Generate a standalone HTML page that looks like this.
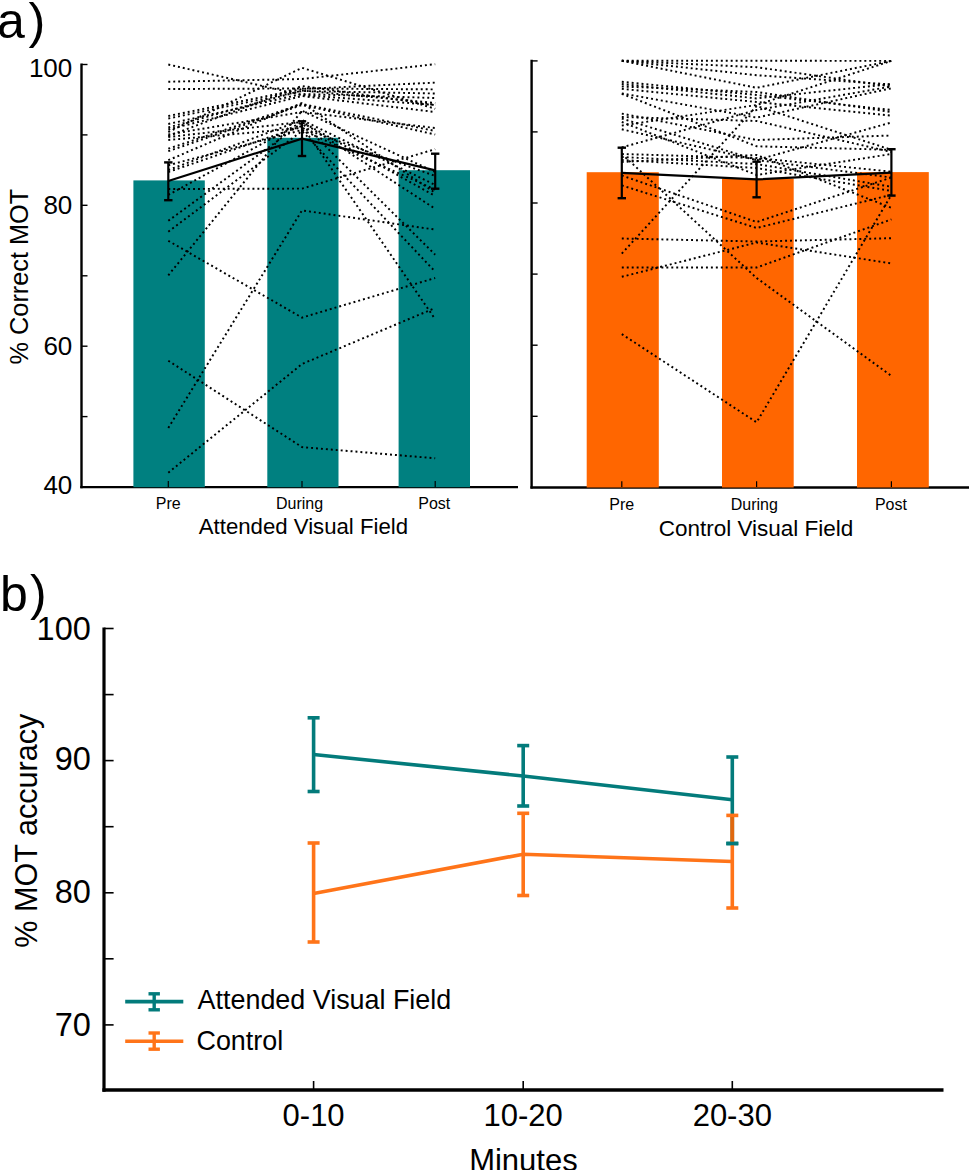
<!DOCTYPE html>
<html><head><meta charset="utf-8"><style>
html,body{margin:0;padding:0;background:#fff;width:969px;height:1170px;overflow:hidden}
svg{display:block}
text{font-family:"Liberation Sans",sans-serif;fill:#000}
</style></head><body>
<svg width="969" height="1170" viewBox="0 0 969 1170">
<rect width="969" height="1170" fill="#fff"/>
<text x="-3" y="38" font-size="50">a</text>
<text x="28.5" y="37.6" font-size="50.5">)</text>
<line x1="81.5" y1="63.5" x2="81.5" y2="488.2" stroke="#000" stroke-width="2.4"/>
<line x1="80.3" y1="487.2" x2="518" y2="487.2" stroke="#000" stroke-width="2.3"/>
<line x1="81.5" y1="64.5" x2="87.5" y2="64.5" stroke="#000" stroke-width="1.4"/>
<line x1="81.5" y1="134.9" x2="87.5" y2="134.9" stroke="#000" stroke-width="1.4"/>
<line x1="81.5" y1="205.3" x2="87.5" y2="205.3" stroke="#000" stroke-width="1.4"/>
<line x1="81.5" y1="275.8" x2="87.5" y2="275.8" stroke="#000" stroke-width="1.4"/>
<line x1="81.5" y1="346.2" x2="87.5" y2="346.2" stroke="#000" stroke-width="1.4"/>
<line x1="81.5" y1="416.6" x2="87.5" y2="416.6" stroke="#000" stroke-width="1.4"/>
<rect x="133.4" y="180.4" width="71.4" height="306.79999999999995" fill="#008080"/>
<rect x="267.3" y="137.8" width="71.19999999999999" height="349.4" fill="#008080"/>
<rect x="398.6" y="170.2" width="71.39999999999998" height="317.0" fill="#008080"/>
<line x1="168.3" y1="481" x2="168.3" y2="487" stroke="#000" stroke-width="1.2"/>
<line x1="302.0" y1="481" x2="302.0" y2="487" stroke="#000" stroke-width="1.2"/>
<line x1="435.2" y1="481" x2="435.2" y2="487" stroke="#000" stroke-width="1.2"/>
<polyline points="168.3,64.5 302.0,95.0 435.2,105.0" stroke="#000" stroke-width="1.95" stroke-dasharray="1.95 3.0" fill="none"/>
<polyline points="168.3,81.7 302.0,79.0 435.2,64.2" stroke="#000" stroke-width="1.95" stroke-dasharray="1.95 3.0" fill="none"/>
<polyline points="168.3,89.0 302.0,88.5 435.2,89.4" stroke="#000" stroke-width="1.95" stroke-dasharray="1.95 3.0" fill="none"/>
<polyline points="168.3,116.0 302.0,89.0 435.2,82.6" stroke="#000" stroke-width="1.95" stroke-dasharray="1.95 3.0" fill="none"/>
<polyline points="168.3,118.5 302.0,91.0 435.2,93.5" stroke="#000" stroke-width="1.95" stroke-dasharray="1.95 3.0" fill="none"/>
<polyline points="168.3,127.5 302.0,90.5 435.2,103.0" stroke="#000" stroke-width="1.95" stroke-dasharray="1.95 3.0" fill="none"/>
<polyline points="168.3,129.5 302.0,96.0 435.2,112.0" stroke="#000" stroke-width="1.95" stroke-dasharray="1.95 3.0" fill="none"/>
<polyline points="168.3,132.0 302.0,67.8 435.2,108.8" stroke="#000" stroke-width="1.95" stroke-dasharray="1.95 3.0" fill="none"/>
<polyline points="168.3,134.5 302.0,112.0 435.2,128.0" stroke="#000" stroke-width="1.95" stroke-dasharray="1.95 3.0" fill="none"/>
<polyline points="168.3,137.0 302.0,122.0 435.2,196.0" stroke="#000" stroke-width="1.95" stroke-dasharray="1.95 3.0" fill="none"/>
<polyline points="168.3,148.7 302.0,104.0 435.2,131.0" stroke="#000" stroke-width="1.95" stroke-dasharray="1.95 3.0" fill="none"/>
<polyline points="168.3,151.2 302.0,105.0 435.2,134.5" stroke="#000" stroke-width="1.95" stroke-dasharray="1.95 3.0" fill="none"/>
<polyline points="168.3,160.2 302.0,103.0 435.2,192.8" stroke="#000" stroke-width="1.95" stroke-dasharray="1.95 3.0" fill="none"/>
<polyline points="168.3,165.2 302.0,130.0 435.2,189.6" stroke="#000" stroke-width="1.95" stroke-dasharray="1.95 3.0" fill="none"/>
<polyline points="168.3,172.0 302.0,126.0 435.2,319.2" stroke="#000" stroke-width="1.95" stroke-dasharray="1.95 3.0" fill="none"/>
<polyline points="168.3,189.0 302.0,188.6 435.2,149.2" stroke="#000" stroke-width="1.95" stroke-dasharray="1.95 3.0" fill="none"/>
<polyline points="168.3,194.9 302.0,122.0 435.2,208.8" stroke="#000" stroke-width="1.95" stroke-dasharray="1.95 3.0" fill="none"/>
<polyline points="168.3,220.8 302.0,123.0 435.2,254.7" stroke="#000" stroke-width="1.95" stroke-dasharray="1.95 3.0" fill="none"/>
<polyline points="168.3,231.7 302.0,131.0 435.2,271.7" stroke="#000" stroke-width="1.95" stroke-dasharray="1.95 3.0" fill="none"/>
<polyline points="168.3,240.8 302.0,317.6 435.2,278.0" stroke="#000" stroke-width="1.95" stroke-dasharray="1.95 3.0" fill="none"/>
<polyline points="168.3,275.3 302.0,110.8 435.2,172.0" stroke="#000" stroke-width="1.95" stroke-dasharray="1.95 3.0" fill="none"/>
<polyline points="168.3,360.7 302.0,447.1 435.2,458.3" stroke="#000" stroke-width="1.95" stroke-dasharray="1.95 3.0" fill="none"/>
<polyline points="168.3,427.9 302.0,210.4 435.2,229.6" stroke="#000" stroke-width="1.95" stroke-dasharray="1.95 3.0" fill="none"/>
<polyline points="168.3,472.7 302.0,364.0 435.2,308.0" stroke="#000" stroke-width="1.95" stroke-dasharray="1.95 3.0" fill="none"/>
<polyline points="168.3,136.0 302.0,86.0 435.2,105.0" stroke="#000" stroke-width="1.95" stroke-dasharray="1.95 3.0" fill="none"/>
<polyline points="168.3,124.0 302.0,94.0 435.2,98.0" stroke="#000" stroke-width="1.95" stroke-dasharray="1.95 3.0" fill="none"/>
<polyline points="168.3,170.0 302.0,120.0 435.2,185.0" stroke="#000" stroke-width="1.95" stroke-dasharray="1.95 3.0" fill="none"/>
<polyline points="168.3,140.0 302.0,128.0 435.2,176.0" stroke="#000" stroke-width="1.95" stroke-dasharray="1.95 3.0" fill="none"/>
<polyline points="168.3,181 302.0,138.6 435.2,170.4" stroke="#000" stroke-width="2.2" fill="none"/>
<line x1="168.3" y1="162.4" x2="168.3" y2="200.2" stroke="#000" stroke-width="2.2"/>
<line x1="164.10000000000002" y1="162.4" x2="172.5" y2="162.4" stroke="#000" stroke-width="2.4"/>
<line x1="164.10000000000002" y1="200.2" x2="172.5" y2="200.2" stroke="#000" stroke-width="2.4"/>
<line x1="302.0" y1="121.3" x2="302.0" y2="156.0" stroke="#000" stroke-width="2.2"/>
<line x1="297.8" y1="121.3" x2="306.2" y2="121.3" stroke="#000" stroke-width="2.4"/>
<line x1="297.8" y1="156.0" x2="306.2" y2="156.0" stroke="#000" stroke-width="2.4"/>
<line x1="435.2" y1="153.7" x2="435.2" y2="188.7" stroke="#000" stroke-width="2.2"/>
<line x1="431.0" y1="153.7" x2="439.4" y2="153.7" stroke="#000" stroke-width="2.4"/>
<line x1="431.0" y1="188.7" x2="439.4" y2="188.7" stroke="#000" stroke-width="2.4"/>
<text x="72.3" y="76.6" font-size="26" text-anchor="end">100</text>
<text x="72.3" y="214.0" font-size="26" text-anchor="end">80</text>
<text x="72.3" y="355.3" font-size="26" text-anchor="end">60</text>
<text x="72.3" y="494.0" font-size="26" text-anchor="end">40</text>
<text transform="translate(27.9,276.6) rotate(-90)" font-size="25.3" text-anchor="middle">% Correct MOT</text>
<text x="168.3" y="508.7" font-size="16" text-anchor="middle">Pre</text>
<text x="299.5" y="508.7" font-size="16" text-anchor="middle">During</text>
<text x="434.3" y="508.7" font-size="16" text-anchor="middle">Post</text>
<text x="303.4" y="533.7" font-size="22.2" text-anchor="middle">Attended Visual Field</text>
<line x1="531.6" y1="59.8" x2="531.6" y2="488.5" stroke="#000" stroke-width="2.4"/>
<line x1="530.4" y1="487.5" x2="969" y2="487.5" stroke="#000" stroke-width="2.3"/>
<line x1="531.6" y1="60.9" x2="537.6" y2="60.9" stroke="#000" stroke-width="1.4"/>
<line x1="531.6" y1="131.9" x2="537.6" y2="131.9" stroke="#000" stroke-width="1.4"/>
<line x1="531.6" y1="203.0" x2="537.6" y2="203.0" stroke="#000" stroke-width="1.4"/>
<line x1="531.6" y1="274.1" x2="537.6" y2="274.1" stroke="#000" stroke-width="1.4"/>
<line x1="531.6" y1="345.2" x2="537.6" y2="345.2" stroke="#000" stroke-width="1.4"/>
<line x1="531.6" y1="416.3" x2="537.6" y2="416.3" stroke="#000" stroke-width="1.4"/>
<rect x="586.7" y="172.2" width="72.09999999999991" height="315.3" fill="#FF6600"/>
<rect x="722.0" y="178.6" width="71.70000000000005" height="308.9" fill="#FF6600"/>
<rect x="857.0" y="172.1" width="71.79999999999995" height="315.4" fill="#FF6600"/>
<line x1="621.8" y1="481.3" x2="621.8" y2="487" stroke="#000" stroke-width="1.2"/>
<line x1="756.6" y1="481.3" x2="756.6" y2="487" stroke="#000" stroke-width="1.2"/>
<line x1="891.4" y1="481.3" x2="891.4" y2="487" stroke="#000" stroke-width="1.2"/>
<polyline points="621.8,60.8 756.6,60.8 891.4,60.9" stroke="#000" stroke-width="1.95" stroke-dasharray="1.95 3.0" fill="none"/>
<polyline points="621.8,60.8 756.6,67.2 891.4,86.5" stroke="#000" stroke-width="1.95" stroke-dasharray="1.95 3.0" fill="none"/>
<polyline points="621.8,60.8 756.6,75.2 891.4,84.5" stroke="#000" stroke-width="1.95" stroke-dasharray="1.95 3.0" fill="none"/>
<polyline points="621.8,60.8 756.6,87.8 891.4,60.9" stroke="#000" stroke-width="1.95" stroke-dasharray="1.95 3.0" fill="none"/>
<polyline points="621.8,81.8 756.6,95.0 891.4,110.0" stroke="#000" stroke-width="1.95" stroke-dasharray="1.95 3.0" fill="none"/>
<polyline points="621.8,84.0 756.6,98.4 891.4,84.0" stroke="#000" stroke-width="1.95" stroke-dasharray="1.95 3.0" fill="none"/>
<polyline points="621.8,86.5 756.6,92.0 891.4,112.0" stroke="#000" stroke-width="1.95" stroke-dasharray="1.95 3.0" fill="none"/>
<polyline points="621.8,88.9 756.6,102.0 891.4,115.6" stroke="#000" stroke-width="1.95" stroke-dasharray="1.95 3.0" fill="none"/>
<polyline points="621.8,93.4 756.6,117.6 891.4,88.3" stroke="#000" stroke-width="1.95" stroke-dasharray="1.95 3.0" fill="none"/>
<polyline points="621.8,93.8 756.6,146.3 891.4,149.8" stroke="#000" stroke-width="1.95" stroke-dasharray="1.95 3.0" fill="none"/>
<polyline points="621.8,113.6 756.6,140.0 891.4,135.5" stroke="#000" stroke-width="1.95" stroke-dasharray="1.95 3.0" fill="none"/>
<polyline points="621.8,117.0 756.6,121.0 891.4,152.0" stroke="#000" stroke-width="1.95" stroke-dasharray="1.95 3.0" fill="none"/>
<polyline points="621.8,118.6 756.6,160.0 891.4,122.5" stroke="#000" stroke-width="1.95" stroke-dasharray="1.95 3.0" fill="none"/>
<polyline points="621.8,122.0 756.6,175.0 891.4,154.0" stroke="#000" stroke-width="1.95" stroke-dasharray="1.95 3.0" fill="none"/>
<polyline points="621.8,125.6 756.6,105.0 891.4,60.9" stroke="#000" stroke-width="1.95" stroke-dasharray="1.95 3.0" fill="none"/>
<polyline points="621.8,129.3 756.6,160.0 891.4,177.5" stroke="#000" stroke-width="1.95" stroke-dasharray="1.95 3.0" fill="none"/>
<polyline points="621.8,147.4 756.6,110.0 891.4,86.5" stroke="#000" stroke-width="1.95" stroke-dasharray="1.95 3.0" fill="none"/>
<polyline points="621.8,154.0 756.6,158.0 891.4,171.7" stroke="#000" stroke-width="1.95" stroke-dasharray="1.95 3.0" fill="none"/>
<polyline points="621.8,157.0 756.6,164.0 891.4,186.8" stroke="#000" stroke-width="1.95" stroke-dasharray="1.95 3.0" fill="none"/>
<polyline points="621.8,160.0 756.6,168.0 891.4,191.0" stroke="#000" stroke-width="1.95" stroke-dasharray="1.95 3.0" fill="none"/>
<polyline points="621.8,162.0 756.6,155.0 891.4,207.8" stroke="#000" stroke-width="1.95" stroke-dasharray="1.95 3.0" fill="none"/>
<polyline points="621.8,175.5 756.6,222.0 891.4,177.5" stroke="#000" stroke-width="1.95" stroke-dasharray="1.95 3.0" fill="none"/>
<polyline points="621.8,185.4 756.6,228.0 891.4,194.8" stroke="#000" stroke-width="1.95" stroke-dasharray="1.95 3.0" fill="none"/>
<polyline points="621.8,238.5 756.6,241.5 891.4,238.2" stroke="#000" stroke-width="1.95" stroke-dasharray="1.95 3.0" fill="none"/>
<polyline points="621.8,253.6 756.6,106.0 891.4,149.8" stroke="#000" stroke-width="1.95" stroke-dasharray="1.95 3.0" fill="none"/>
<polyline points="621.8,267.5 756.6,267.5 891.4,219.4" stroke="#000" stroke-width="1.95" stroke-dasharray="1.95 3.0" fill="none"/>
<polyline points="621.8,276.8 756.6,242.5 891.4,263.4" stroke="#000" stroke-width="1.95" stroke-dasharray="1.95 3.0" fill="none"/>
<polyline points="621.8,334.1 756.6,422.3 891.4,194.8" stroke="#000" stroke-width="1.95" stroke-dasharray="1.95 3.0" fill="none"/>
<polyline points="621.8,154.0 756.6,278.0 891.4,375.9" stroke="#000" stroke-width="1.95" stroke-dasharray="1.95 3.0" fill="none"/>
<polyline points="621.8,172.8 756.6,179.4 891.4,172.7" stroke="#000" stroke-width="2.2" fill="none"/>
<line x1="621.8" y1="147.7" x2="621.8" y2="198.2" stroke="#000" stroke-width="2.2"/>
<line x1="617.5999999999999" y1="147.7" x2="626.0" y2="147.7" stroke="#000" stroke-width="2.4"/>
<line x1="617.5999999999999" y1="198.2" x2="626.0" y2="198.2" stroke="#000" stroke-width="2.4"/>
<line x1="756.6" y1="161.7" x2="756.6" y2="197.3" stroke="#000" stroke-width="2.2"/>
<line x1="752.4" y1="161.7" x2="760.8000000000001" y2="161.7" stroke="#000" stroke-width="2.4"/>
<line x1="752.4" y1="197.3" x2="760.8000000000001" y2="197.3" stroke="#000" stroke-width="2.4"/>
<line x1="891.4" y1="149.2" x2="891.4" y2="195.6" stroke="#000" stroke-width="2.2"/>
<line x1="887.1999999999999" y1="149.2" x2="895.6" y2="149.2" stroke="#000" stroke-width="2.4"/>
<line x1="887.1999999999999" y1="195.6" x2="895.6" y2="195.6" stroke="#000" stroke-width="2.4"/>
<text x="621.8" y="509.8" font-size="16" text-anchor="middle">Pre</text>
<text x="754.3" y="509.8" font-size="16" text-anchor="middle">During</text>
<text x="890.9" y="509.8" font-size="16" text-anchor="middle">Post</text>
<text x="756" y="536" font-size="22.5" text-anchor="middle">Control Visual Field</text>
<text x="0" y="611" font-size="50">b</text>
<text x="29.9" y="610.3" font-size="49.8">)</text>
<line x1="104" y1="627.5" x2="104" y2="1091.8" stroke="#000" stroke-width="3.2"/>
<line x1="102.4" y1="1090" x2="943.5" y2="1090" stroke="#000" stroke-width="3.6"/>
<line x1="104" y1="628.5" x2="113.6" y2="628.5" stroke="#000" stroke-width="1.6"/>
<line x1="104" y1="694.6" x2="113.6" y2="694.6" stroke="#000" stroke-width="1.6"/>
<line x1="104" y1="760.6" x2="113.6" y2="760.6" stroke="#000" stroke-width="1.6"/>
<line x1="104" y1="826.7" x2="113.6" y2="826.7" stroke="#000" stroke-width="1.6"/>
<line x1="104" y1="892.8" x2="113.6" y2="892.8" stroke="#000" stroke-width="1.6"/>
<line x1="104" y1="958.8" x2="113.6" y2="958.8" stroke="#000" stroke-width="1.6"/>
<line x1="104" y1="1024.9" x2="113.6" y2="1024.9" stroke="#000" stroke-width="1.6"/>
<text x="90.8" y="640.1" font-size="32.5" text-anchor="end">100</text>
<text x="90.8" y="770.2" font-size="32.5" text-anchor="end">90</text>
<text x="90.8" y="903.4" font-size="32.5" text-anchor="end">80</text>
<text x="90.8" y="1035.5" font-size="32.5" text-anchor="end">70</text>
<line x1="313.6" y1="1081" x2="313.6" y2="1089" stroke="#000" stroke-width="1.6"/>
<line x1="523.2" y1="1081" x2="523.2" y2="1089" stroke="#000" stroke-width="1.6"/>
<line x1="732.3" y1="1081" x2="732.3" y2="1089" stroke="#000" stroke-width="1.6"/>
<text x="313.6" y="1126" font-size="31" text-anchor="middle">0-10</text>
<text x="523.2" y="1126" font-size="31" text-anchor="middle">10-20</text>
<text x="732.3" y="1126" font-size="31" text-anchor="middle">20-30</text>
<text x="523.4" y="1170.5" font-size="31" text-anchor="middle">Minutes</text>
<text transform="translate(36.5,830.7) rotate(-90)" font-size="30.6" text-anchor="middle">% MOT accuracy</text>
<polyline points="313.6,754.5 523.2,776.0 732.3,799.7" stroke="#037B7B" stroke-width="3.6" fill="none" opacity="1"/>
<line x1="313.6" y1="717.8" x2="313.6" y2="791.5" stroke="#037B7B" stroke-width="3.6" opacity="1"/>
<line x1="307.6" y1="717.8" x2="319.6" y2="717.8" stroke="#037B7B" stroke-width="3.6" opacity="1"/>
<line x1="307.6" y1="791.5" x2="319.6" y2="791.5" stroke="#037B7B" stroke-width="3.6" opacity="1"/>
<line x1="523.2" y1="745.6" x2="523.2" y2="806.0" stroke="#037B7B" stroke-width="3.6" opacity="1"/>
<line x1="517.2" y1="745.6" x2="529.2" y2="745.6" stroke="#037B7B" stroke-width="3.6" opacity="1"/>
<line x1="517.2" y1="806.0" x2="529.2" y2="806.0" stroke="#037B7B" stroke-width="3.6" opacity="1"/>
<line x1="732.3" y1="757.0" x2="732.3" y2="843.5" stroke="#037B7B" stroke-width="3.6" opacity="1"/>
<line x1="726.3" y1="757.0" x2="738.3" y2="757.0" stroke="#037B7B" stroke-width="3.6" opacity="1"/>
<line x1="726.3" y1="843.5" x2="738.3" y2="843.5" stroke="#037B7B" stroke-width="3.6" opacity="1"/>
<polyline points="313.6,893.5 523.2,854.2 732.3,861.5" stroke="#FF7419" stroke-width="3.6" fill="none" opacity="1"/>
<line x1="313.6" y1="843.0" x2="313.6" y2="942.0" stroke="#FF7419" stroke-width="3.6" opacity="1"/>
<line x1="307.6" y1="843.0" x2="319.6" y2="843.0" stroke="#FF7419" stroke-width="3.6" opacity="1"/>
<line x1="307.6" y1="942.0" x2="319.6" y2="942.0" stroke="#FF7419" stroke-width="3.6" opacity="1"/>
<line x1="523.2" y1="813.3" x2="523.2" y2="895.5" stroke="#FF7419" stroke-width="3.6" opacity="1"/>
<line x1="517.2" y1="813.3" x2="529.2" y2="813.3" stroke="#FF7419" stroke-width="3.6" opacity="1"/>
<line x1="517.2" y1="895.5" x2="529.2" y2="895.5" stroke="#FF7419" stroke-width="3.6" opacity="1"/>
<line x1="732.3" y1="815.4" x2="732.3" y2="908.0" stroke="#FF7419" stroke-width="3.6" opacity="1"/>
<line x1="726.3" y1="815.4" x2="738.3" y2="815.4" stroke="#FF7419" stroke-width="3.6" opacity="1"/>
<line x1="726.3" y1="908.0" x2="738.3" y2="908.0" stroke="#FF7419" stroke-width="3.6" opacity="1"/>
<line x1="732.3" y1="817" x2="732.3" y2="841.7" stroke="#E0680E" stroke-width="3.6"/>
<line x1="726.3" y1="843.5" x2="738.3" y2="843.5" stroke="#037B7B" stroke-width="3.6"/>
<line x1="125.2" y1="1001.6" x2="183.3" y2="1001.6" stroke="#037B7B" stroke-width="3.6"/>
<line x1="154.2" y1="993.8" x2="154.2" y2="1009.8" stroke="#037B7B" stroke-width="3.4"/>
<line x1="148.5" y1="993.8" x2="159.9" y2="993.8" stroke="#037B7B" stroke-width="3.4"/>
<line x1="148.5" y1="1009.8" x2="159.9" y2="1009.8" stroke="#037B7B" stroke-width="3.4"/>
<line x1="125.2" y1="1041.2" x2="183.3" y2="1041.2" stroke="#FF7419" stroke-width="3.6"/>
<line x1="154.2" y1="1033" x2="154.2" y2="1049.2" stroke="#FF7419" stroke-width="3.4"/>
<line x1="148.5" y1="1033" x2="159.9" y2="1033" stroke="#FF7419" stroke-width="3.4"/>
<line x1="148.5" y1="1049.2" x2="159.9" y2="1049.2" stroke="#FF7419" stroke-width="3.4"/>
<text x="197.6" y="1009.3" font-size="26.9">Attended Visual Field</text>
<text x="196.5" y="1049.8" font-size="26.9">Control</text>
</svg>
</body></html>
